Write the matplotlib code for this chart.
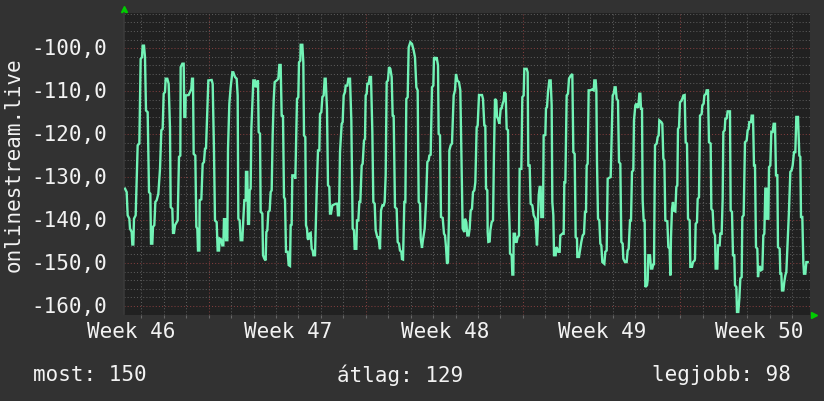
import numpy as np
import matplotlib
matplotlib.use("Agg")
import matplotlib.pyplot as plt

# time in days from the left edge of the graph, value in dBm-like units
days = [
    0.045, 0.119, 0.163, 0.238, 0.267, 0.342, 0.371, 0.416, 0.445, 0.520, 0.564, 0.609, 0.683, 0.742, 0.802,
    0.831, 0.891, 0.935, 0.980, 1.054, 1.114, 1.173, 1.203, 1.262, 1.292, 1.351, 1.396, 1.455, 1.529, 1.604,
    1.663, 1.722, 1.767, 1.826, 1.856, 1.930, 1.990, 2.049, 2.079, 2.153, 2.183, 2.227, 2.272, 2.346, 2.391,
    2.450, 2.509, 2.524, 2.598, 2.658, 2.687, 2.732, 2.747, 2.880, 2.940, 2.999, 3.029, 3.073, 3.103, 3.177,
    3.222, 3.266, 3.296, 3.356, 3.370, 3.445, 3.504, 3.563, 3.608, 3.653, 3.712, 3.757, 3.905, 3.950, 4.009,
    4.053, 4.128, 4.172, 4.232, 4.261, 4.321, 4.380, 4.425, 4.454, 4.514, 4.543, 4.603, 4.633, 4.692, 4.751,
    4.826, 4.870, 4.944, 5.019, 5.063, 5.093, 5.152, 5.197, 5.271, 5.316, 5.360, 5.419, 5.434, 5.494, 5.523,
    5.568, 5.598, 5.642, 5.672, 5.716, 5.761, 5.835, 5.865, 5.910, 5.969, 5.999, 6.058, 6.088, 6.162, 6.192,
    6.251, 6.310, 6.340, 6.385, 6.429, 6.489, 6.533, 6.578, 6.622, 6.667, 6.711, 6.800, 6.875, 6.919, 6.978,
    7.023, 7.082, 7.127, 7.171, 7.216, 7.290, 7.335, 7.394, 7.424, 7.468, 7.498, 7.587, 7.632, 7.676, 7.706,
    7.765, 7.795, 7.854, 7.869, 7.944, 7.988, 8.018, 8.077, 8.107, 8.151, 8.181, 8.211, 8.255, 8.315, 8.359,
    8.404, 8.434, 8.508, 8.523, 8.582, 8.641, 8.701, 8.731, 8.790, 8.835, 8.894, 8.938, 8.983, 9.042, 9.087,
    9.146, 9.176, 9.220, 9.280, 9.354, 9.443, 9.503, 9.532, 9.577, 9.621, 9.696, 9.740, 9.785, 9.844, 9.874,
    9.948, 9.993, 10.067, 10.126, 10.186, 10.245, 10.275, 10.349, 10.379, 10.438, 10.483, 10.527, 10.587,
    10.631, 10.690, 10.735, 10.765, 10.809, 10.839, 10.898, 10.943, 11.002, 11.062, 11.106, 11.166, 11.210,
    11.284, 11.329, 11.403, 11.448, 11.507, 11.567, 11.611, 11.656, 11.700, 11.759, 11.804, 11.864, 11.923,
    11.967, 12.012, 12.071, 12.145, 12.190, 12.249, 12.294, 12.353, 12.383, 12.428, 12.487, 12.532, 12.576,
    12.636, 12.680, 12.754, 12.829, 12.903, 12.962, 13.022, 13.081, 13.126, 13.185, 13.215, 13.274, 13.304,
    13.393, 13.452, 13.512, 13.571, 13.601, 13.660, 13.719, 13.779, 13.808, 13.883, 13.927, 13.987, 14.016,
    14.076, 14.120, 14.195, 14.254, 14.299, 14.343, 14.388, 14.432, 14.477, 14.492, 14.551, 14.610, 14.685,
    14.744, 14.788, 14.848, 14.922, 14.981, 15.026, 15.085, 15.160, 15.189, 15.249, 15.293, 15.353, 15.397,
    15.442, 15.501, 15.546, 15.605, 15.650, 15.709, 15.754, 15.813, 15.947, 15.991, 16.050, 16.095, 16.125,
    16.184, 16.199, 16.229, 16.288, 16.318, 16.377, 16.437, 16.481, 16.526, 16.585, 16.615, 16.659, 16.719,
    16.778, 16.823, 16.867, 16.912, 16.942, 17.001, 17.045, 17.105, 17.134, 17.179, 17.194, 17.268, 17.298,
    17.342, 17.357, 17.416, 17.446, 17.491, 17.535, 17.595, 17.624, 17.699, 17.743, 17.802, 17.832, 17.936,
    17.981, 18.010, 18.070, 18.114, 18.189, 18.248, 18.322, 18.352, 18.396, 18.426, 18.471, 18.515, 18.560,
    18.589, 18.664, 18.693, 18.768, 18.797, 18.842, 18.886, 18.946, 19.005, 19.050, 19.079, 19.124, 19.154,
    19.228, 19.258, 19.302, 19.347, 19.406, 19.436, 19.525, 19.584, 19.614, 19.659, 19.718, 19.777, 19.822,
    19.896, 19.970, 20.015, 20.074, 20.119, 20.178, 20.193, 20.267, 20.312, 20.371, 20.431, 20.490, 20.535,
    20.579, 20.609, 20.653, 20.698, 20.772, 20.847, 20.921, 20.950, 21.010, 21.040, 21.069, 21.114, 21.173,
    21.218, 21.262, 21.307, 21.396, 21.440, 21.500, 21.544, 21.604, 21.678, 21.722, 21.767, 21.811, 21.856,
    21.900, 21.945, 22.004, 22.049, 22.108, 22.153, 22.212, 22.242, 22.316, 22.390, 22.435, 22.480, 22.539,
    22.584, 22.628, 22.687, 22.717, 22.777, 22.821, 22.866, 22.910, 22.955, 23.000, 23.029, 23.074, 23.103,
    23.148, 23.192, 23.222, 23.296, 23.326, 23.356, 23.430, 23.474, 23.534, 23.578, 23.608, 23.653, 23.727,
    23.771, 23.816, 23.846, 23.935, 23.979, 24.024, 24.069, 24.113, 24.202, 24.247, 24.306, 24.336, 24.365,
    24.410, 24.454, 24.484, 24.558, 24.603, 24.647, 24.677, 24.722, 24.766, 24.840, 24.915, 24.974, 25.019,
    25.078, 25.123, 25.197, 25.227, 25.301, 25.345, 25.420, 25.434, 25.464, 25.523, 25.553, 25.612, 25.657,
    25.731, 25.761, 25.820, 25.850, 25.924, 25.954, 26.013, 26.058, 26.132, 26.162, 26.221, 26.266, 26.325,
    26.355, 26.429, 26.459, 26.533, 26.563, 26.622, 26.667, 26.697, 26.756, 26.786, 26.845, 26.889, 26.993,
    27.023, 27.082, 27.127, 27.186, 27.216, 27.275, 27.305, 27.364, 27.409, 27.454, 27.513, 27.543, 27.602,
    27.661, 27.736, 27.780, 27.825, 27.854, 27.929, 27.958, 28.018, 28.062, 28.107, 28.151, 28.211, 28.241,
    28.285, 28.330, 28.374, 28.434, 28.478, 28.523, 28.567, 28.612, 28.641, 28.701, 28.731, 28.790, 28.834,
    28.894, 28.938, 28.998, 29.042, 29.102, 29.131, 29.206, 29.235, 29.280, 29.310, 29.369, 29.413, 29.458,
    29.503, 29.562, 29.621, 29.681, 29.740, 29.785, 29.844, 29.903, 29.948, 30.022, 30.082, 30.126, 30.156,
    30.215, 30.260, 30.290, 30.349, 30.394, 30.453,
]
values = [
    -132.7, -133.5, -138.9, -139.7, -142.0, -142.8, -145.7, -145.7, -139.7, -138.9, -130.4, -122.6, -122.2, -102.5, -102.1,
    -99.4, -99.4, -102.1, -114.5, -114.9, -133.5, -133.9, -145.5, -145.5, -141.6, -141.2, -135.8, -135.4, -133.9, -128.1,
    -119.1, -118.8, -110.6, -110.2, -107.1, -107.1, -108.3, -118.8, -137.0, -137.4, -143.0, -143.0, -141.2, -140.5, -140.1,
    -125.3, -125.0, -104.4, -103.6, -103.6, -116.0, -116.0, -111.0, -110.9, -110.2, -109.5, -107.1, -107.1, -124.6, -125.0,
    -141.6, -142.0, -147.1, -147.1, -135.4, -135.2, -126.9, -126.5, -123.4, -123.3, -114.1, -107.5, -107.4, -108.3, -124.2,
    -140.1, -140.5, -147.1, -147.1, -144.3, -144.5, -145.9, -145.9, -139.8, -139.8, -144.7, -144.7, -123.4, -112.9, -109.1,
    -105.6, -105.6, -106.7, -107.1, -111.0, -139.7, -140.1, -144.7, -144.7, -139.7, -135.4, -135.4, -128.8, -128.8, -140.9,
    -140.9, -133.1, -132.7, -118.8, -112.9, -107.5, -107.5, -109.1, -108.3, -107.5, -119.5, -119.9, -138.1, -138.5, -148.2,
    -149.0, -149.4, -142.8, -142.4, -138.1, -137.8, -133.5, -133.1, -120.3, -112.2, -107.9, -107.5, -107.1, -103.9, -103.9,
    -115.7, -115.8, -134.7, -135.1, -147.4, -147.4, -150.5, -150.7, -141.2, -141.1, -129.6, -129.6, -130.4, -118.8, -111.8,
    -111.4, -103.3, -102.9, -99.2, -99.2, -103.3, -120.3, -120.7, -141.2, -142.0, -144.3, -144.6, -143.2, -143.0, -146.7,
    -147.1, -148.2, -148.2, -145.1, -133.5, -123.8, -123.8, -115.3, -114.9, -111.4, -111.0, -107.1, -107.1, -114.1, -131.9,
    -132.3, -138.5, -138.5, -136.6, -136.4, -136.2, -136.2, -138.9, -138.9, -124.2, -117.6, -117.2, -111.0, -110.2, -108.7,
    -108.7, -107.1, -107.1, -116.8, -142.0, -142.4, -146.7, -146.7, -140.1, -140.1, -135.8, -135.8, -127.3,
    -126.9, -121.5, -121.1, -111.0, -110.6, -108.3, -108.3, -106.7, -106.7, -119.5, -135.8, -136.2, -142.4,
    -144.0, -144.0, -146.8, -137.8, -136.6, -136.6, -135.8, -129.6, -107.9, -107.5, -104.4, -104.8, -106.7,
    -115.7, -115.8, -137.0, -137.4, -145.1, -145.5, -147.1, -147.4, -149.1, -149.2, -135.8, -135.8, -111.8,
    -111.4, -99.8, -98.6, -99.0, -100.5, -102.1, -109.1, -109.8, -135.8, -136.2, -144.3, -146.5, -145.1,
    -142.0, -135.8, -126.5, -126.1, -125.0, -124.8, -109.1, -108.7, -102.1, -102.5, -102.1, -104.0, -119.9,
    -120.3, -139.3, -139.5, -143.2, -143.6, -146.3, -150.2, -149.8, -138.9, -123.8, -122.6, -122.2, -111.0,
    -109.8, -106.0, -107.5, -107.9, -109.8, -124.2, -142.0, -142.8, -139.7, -140.5, -143.6, -143.6, -142.0,
    -137.8, -137.4, -133.5, -133.1, -131.2, -118.4, -118.0, -110.9, -110.9, -111.8, -118.0, -118.1, -132.7,
    -133.1, -142.8, -145.1, -145.0, -142.4, -140.5, -140.1, -124.2, -111.8, -112.2, -116.0, -116.4, -117.6,
    -114.1, -114.0, -112.9, -112.2, -110.2, -110.6, -118.8, -119.1, -134.7, -142.4, -147.8, -148.2, -152.7,
    -152.7, -143.2, -143.2, -145.1, -145.1, -144.0, -143.6, -128.1, -128.1, -111.4, -111.0, -104.8, -104.8,
    -105.6, -127.3, -127.3, -136.2, -136.6, -138.9, -139.7, -142.0, -145.9, -142.0, -134.3, -132.3, -132.3,
    -139.3, -139.3, -120.3, -120.2, -114.0, -113.7, -110.2, -107.5, -107.5, -113.3, -135.8, -138.9, -148.2,
    -148.2, -146.3, -146.7, -147.4, -147.4, -143.6, -143.2, -143.2, -131.2, -131.2, -111.0, -110.6, -107.1,
    -106.4, -106.0, -124.2, -124.6, -144.0, -144.3, -148.6, -148.6, -147.1, -145.1, -143.6, -143.2, -138.1,
    -138.1, -127.3, -126.9, -109.8, -109.8, -109.6, -109.8, -107.5, -107.5, -109.8, -126.5, -139.7, -140.1,
    -145.5, -145.9, -149.8, -150.2, -147.4, -147.1, -130.4, -130.2, -130.0, -121.1, -111.0, -110.6, -109.1,
    -109.1, -111.8, -112.2, -126.5, -126.9, -145.1, -145.5, -149.0, -149.8, -149.8, -147.1, -146.7, -140.1,
    -140.1, -128.8, -128.4, -116.8, -113.3, -112.9, -113.7, -113.7, -110.6, -110.6, -114.1, -114.1, -135.4,
    -140.1, -140.1, -155.6, -155.2, -154.0, -148.2, -148.2, -151.3, -151.3, -150.2, -150.5, -122.6, -122.2,
    -120.7, -120.3, -116.8, -117.2, -117.6, -125.7, -126.1, -140.1, -140.3, -146.3, -146.7, -152.9, -144.0,
    -137.4, -135.8, -137.8, -138.0, -132.3, -131.9, -118.8, -118.4, -112.6, -112.2, -111.0, -110.9, -121.9,
    -122.2, -139.7, -140.1, -150.9, -150.9, -149.8, -149.4, -149.0, -140.9, -140.5, -135.1, -134.7, -115.7,
    -115.3, -113.3, -112.9, -111.0, -110.6, -109.8, -109.8, -121.9, -122.2, -137.4, -137.8, -142.8, -143.6,
    -151.3, -151.3, -145.9, -145.9, -143.2, -143.2, -135.1, -119.5, -119.1, -116.4, -116.3, -114.7, -114.7,
    -137.8, -138.1, -148.2, -148.2, -155.2, -155.6, -161.4, -161.4, -158.3, -153.6, -153.3, -139.3, -138.9,
    -121.9, -121.5, -119.1, -118.8, -117.2, -117.2, -115.7, -115.7, -127.3, -127.3, -146.3, -146.7, -153.3,
    -150.9, -150.9, -151.7, -151.5, -143.6, -143.2, -132.7, -132.7, -139.7, -139.7, -127.7, -127.3, -119.5,
    -119.5, -117.6, -117.6, -129.6, -129.6, -146.3, -146.7, -152.5, -152.5, -156.4, -156.4, -154.4, -152.9,
    -152.1, -145.1, -137.8, -128.8, -128.4, -127.3, -124.2, -124.2, -116.0, -116.0, -125.0, -125.3, -139.3,
    -139.3, -149.8, -152.5, -152.5, -149.8, -149.8,
]

week_labels = ["Week 46", "Week 47", "Week 48", "Week 49", "Week 50"]
week_label_days = [0.30, 7.30, 14.30, 21.30, 28.30]
y_labels = ["-100,0", "-110,0", "-120,0", "-130,0", "-140,0", "-150,0", "-160,0"]
y_label_vals = [-100, -110, -120, -130, -140, -150, -160]
summary = ["most: 150", "átlag: 129", "legjobb: 98"]
series_name = "onlinestream.live"

BG = "#323232"
PLOT_BG = "#212121"
MINOR = "#5a5a5a"
MAJOR = "#7f3d3d"
LINE = "#72f3b6"
TXT = "#f2f2f2"
FS = 15

plt.rcParams["font.family"] = ["DejaVu Sans Mono"]

fig = plt.figure(figsize=(8.24, 4.02), dpi=100, facecolor=BG)
W, H = 824, 402
x0, x1, y0, y1 = 124, 810, 14, 315.5
ax = fig.add_axes([x0 / W, 1 - y1 / H, (x1 - x0) / W, (y1 - y0) / H])
ax.set_facecolor(PLOT_BG)

xmax = 30.557
ax.set_xlim(0, xmax)
ax.set_ylim(-162.0, -91.8)

dots = (0, (1, 2))
for d in np.arange(0.77, xmax, 1.0):
    major = abs(((d - 3.80) / 7.0) - round((d - 3.80) / 7.0)) < 0.02
    ax.axvline(d, color=MAJOR if major else MINOR, lw=0.75, ls=dots, zorder=1)
for v in np.arange(-160, -91, 2):
    major = v % 10 == 0
    ax.axhline(v, color=MAJOR if major else MINOR, lw=0.75, ls=dots, zorder=1)

ax.plot(days, values, color=LINE, lw=1.7, zorder=3, solid_joinstyle="miter")

for s in ax.spines.values():
    s.set_visible(False)
ax.spines["left"].set_visible(True)
ax.spines["left"].set_color("#3a3a3a")
ax.spines["left"].set_linewidth(1.2)

ax.set_xticks(np.arange(0.77, xmax, 1.0))
ax.set_xticklabels([])
ax.tick_params(axis="x", length=2, width=0.8, color="#666666", direction="out")
ax.set_yticks([])

for lab, d in zip(week_labels, week_label_days):
    ax.text(d, -0.022, lab, transform=ax.get_xaxis_transform(), ha="center", va="top",
            color=TXT, fontsize=FS)
for lab, v in zip(y_labels, y_label_vals):
    ax.text(-0.025, v, lab, transform=ax.get_yaxis_transform(), ha="right", va="center",
            color=TXT, fontsize=FS)

fig.text(14 / W, 1 - 165 / H, series_name, rotation=90, ha="center", va="center",
         color=TXT, fontsize=FS)

fig.text(33 / W, 1 - 375 / H, summary[0], ha="left", va="center", color=TXT, fontsize=FS)
fig.text(400 / W, 1 - 375 / H, summary[1], ha="center", va="center", color=TXT, fontsize=FS)
fig.text(791 / W, 1 - 375 / H, summary[2], ha="right", va="center", color=TXT, fontsize=FS)

# rrdtool style axis arrows
ax.plot([0], [1.013], marker="^", ms=5, color="#00cc00", transform=ax.transAxes, clip_on=False)
ax.plot([1.006], [0], marker=">", ms=5, color="#00cc00", transform=ax.transAxes, clip_on=False)

fig.savefig("out.png", dpi=100, facecolor=BG)
